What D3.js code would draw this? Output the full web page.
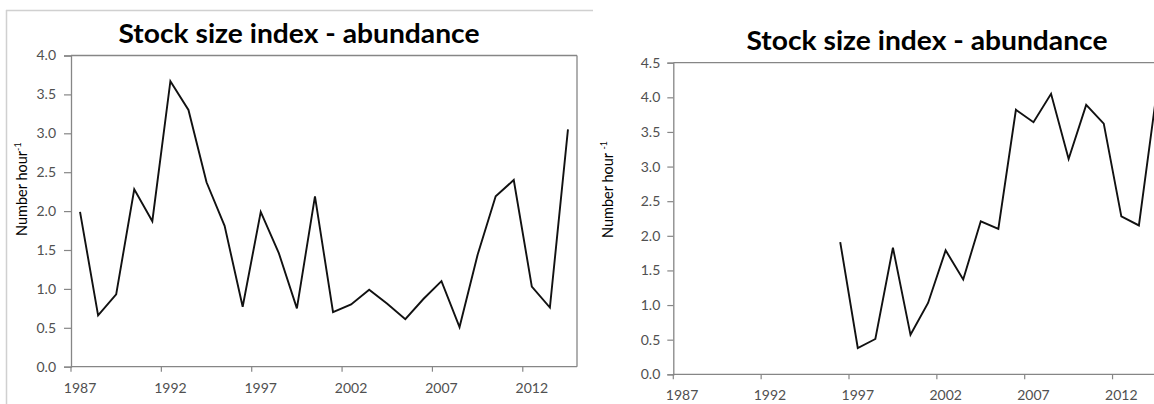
<!DOCTYPE html>
<html>
<head>
<meta charset="utf-8">
<script src="https://cdn.jsdelivr.net/npm/d3@7"></script>
<style>
  html, body { margin: 0; padding: 0; background: #fff; }
  svg { display: block; }
</style>
</head>
<body>
<svg id="chart" width="1154" height="404"></svg>
<script>
// ---- data ----
const years = [1987, 1988, 1989, 1990, 1991, 1992, 1993, 1994, 1995, 1996,
               1997, 1998, 1999, 2000, 2001, 2002, 2003, 2004, 2005, 2006,
               2007, 2008, 2009, 2010, 2011, 2012, 2013, 2014];
const xTickYears = [1987, 1992, 1997, 2002, 2007, 2012];
const leftValues = [1.99, 0.66, 0.93, 2.28, 1.87, 3.67, 3.30, 2.37, 1.81, 0.77,
                    1.99, 1.46, 0.75, 2.19, 0.70, 0.80, 0.99, 0.81, 0.61, 0.87,
                    1.10, 0.51, 1.44, 2.19, 2.40, 1.03, 0.76, 3.05];
const rightValues = [null, null, null, null, null, null, null, null, null, 1.91,
                     0.38, 0.51, 1.83, 0.57, 1.03, 1.79, 1.37, 2.21, 2.10, 3.82,
                     3.64, 4.05, 3.11, 3.89, 3.62, 2.28, 2.15, 4.05];
const leftYTicks = [0, 0.5, 1.0, 1.5, 2.0, 2.5, 3.0, 3.5, 4.0];
const rightYTicks = [0, 0.5, 1.0, 1.5, 2.0, 2.5, 3.0, 3.5, 4.0, 4.5];
const titleText = "Stock size index - abundance";

const svg = d3.select("#chart");
const FONT = "Lato, 'Open Sans', sans-serif";

// outer frame of left chart
svg.append("line").attr("x1", 6).attr("x2", 593).attr("y1", 10.5).attr("y2", 10.5)
   .attr("stroke", "#d0d0d0").attr("stroke-width", 1.5);
svg.append("line").attr("x1", 6.5).attr("x2", 6.5).attr("y1", 10).attr("y2", 404)
   .attr("stroke", "#d0d0d0").attr("stroke-width", 1.5);

function panel(cfg) {
  const x = d3.scaleBand().domain(years).range([cfg.x0, cfg.x1]).padding(0);
  const w = x.bandwidth();
  const y = d3.scaleLinear().domain([0, cfg.yMax]).range([cfg.yBottom, cfg.yTop]);
  const g = svg.append("g");
  const axisColor = "#868686";

  // plot border (top + right)
  g.append("line").attr("x1", cfg.x0).attr("x2", cfg.x1)
    .attr("y1", y(cfg.yMax)).attr("y2", y(cfg.yMax))
    .attr("stroke", axisColor).attr("stroke-width", 1.3);
  g.append("line").attr("x1", cfg.x1).attr("x2", cfg.x1)
    .attr("y1", y(cfg.yMax)).attr("y2", y(0))
    .attr("stroke", axisColor).attr("stroke-width", 1.3);

  // y axis
  const yAxis = d3.axisLeft(y).tickValues(cfg.yTicks).tickSize(cfg.yTick).tickPadding(cfg.yPad)
    .tickFormat(d3.format(".1f"));
  const ya = g.append("g").attr("transform", `translate(${cfg.x0},0)`).call(yAxis);
  ya.select(".domain").attr("stroke", axisColor).attr("stroke-width", 1.3);
  ya.selectAll(".tick line").attr("stroke", axisColor).attr("stroke-width", 1.2);
  ya.selectAll(".tick text").attr("fill", "#505050").style("font-family", FONT)
    .style("font-size", "14px");

  // x axis: ticks at category boundaries, labels at category centers
  const xa = g.append("g");
  xa.append("line").attr("x1", cfg.x0).attr("x2", cfg.x1)
    .attr("y1", y(0)).attr("y2", y(0)).attr("stroke", axisColor).attr("stroke-width", 1.3);
  xa.selectAll("line.t").data(xTickYears).join("line").attr("class", "t")
    .attr("x1", d => x(d)).attr("x2", d => x(d))
    .attr("y1", y(0)).attr("y2", y(0) + 5)
    .attr("stroke", axisColor).attr("stroke-width", 1.2);
  xa.selectAll("text").data(xTickYears).join("text")
    .attr("x", d => x(d) + w / 2).attr("y", y(0) + 26)
    .attr("text-anchor", "middle").attr("fill", "#505050")
    .style("font-family", FONT).style("font-size", "14px")
    .text(d => d);

  // data line
  const line = d3.line()
    .defined(d => d.v !== null)
    .x(d => x(d.year) + w / 2)
    .y(d => y(d.v));
  const pts = years.map((yr, i) => ({ year: yr, v: cfg.values[i] }));
  g.append("path").datum(pts).attr("d", line)
    .attr("fill", "none").attr("stroke", "#111").attr("stroke-width", 1.9)
    .attr("stroke-linejoin", "miter");

  // title
  g.append("text").attr("x", cfg.titleX).attr("y", cfg.titleY)
    .attr("text-anchor", "middle")
    .attr("textLength", 361).attr("lengthAdjust", "spacingAndGlyphs")
    .style("font-family", FONT).style("font-weight", "bold").style("font-size", "27px")
    .attr("fill", "#000").text(titleText);

  // y axis label
  const lab = g.append("text")
    .attr("transform", `translate(${cfg.labX},${cfg.labY}) rotate(-90)`)
    .attr("text-anchor", "start").attr("fill", "#000")
    .style("font-family", FONT).style("font-size", "14.5px");
  lab.append("tspan").text(cfg.labText);
  lab.append("tspan").attr("dy", -6).style("font-size", "9px").text("-1");
}

panel({
  values: leftValues, yTicks: leftYTicks, yMax: 4,
  x0: 71, x1: 577, yTop: 55.5, yBottom: 366.7, yTick: 7, yPad: 8,
  titleX: 299, titleY: 43,
  labX: 27, labY: 236, labText: "Number hour"
});

panel({
  values: rightValues, yTicks: rightYTicks, yMax: 4.5,
  x0: 673.3, x1: 673.3 + 28 * 17.57, yTop: 62.7, yBottom: 374.3, yTick: 6, yPad: 7,
  titleX: 927, titleY: 50,
  labX: 613, labY: 238, labText: "Number hour "
});
</script>
</body>
</html>
